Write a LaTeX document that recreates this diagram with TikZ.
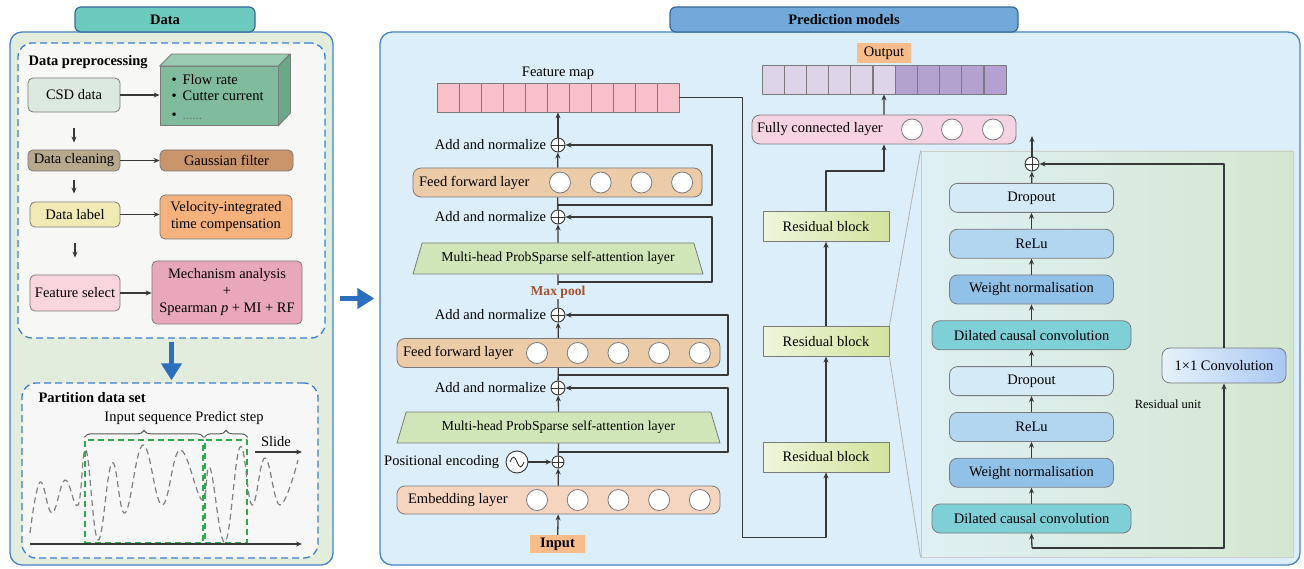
\documentclass[tikz,border=0pt]{standalone}
\usepackage{fontspec}
\setmainfont{Liberation Serif}
\usetikzlibrary{positioning}
\usetikzlibrary{shapes.geometric, arrows.meta, decorations.pathreplacing}

\definecolor{linecol}{HTML}{383838}
\definecolor{boxline}{HTML}{7A7A7A}
\definecolor{panelblue}{HTML}{4683C6}
\definecolor{dashblue}{HTML}{3C7FD0}
\definecolor{bigblue}{HTML}{2C6FBD}
\definecolor{datafill}{HTML}{E3EDDD}
\definecolor{datatab}{HTML}{6CC9BE}
\definecolor{predtab}{HTML}{70A9DA}
\definecolor{predfill}{HTML}{DCEEF9}
\definecolor{prepfill}{HTML}{F7F7F5}
\definecolor{csdfill}{HTML}{DCE9DE}
\definecolor{featfill}{HTML}{80BB9D}
\definecolor{feattop}{HTML}{98CBB0}
\definecolor{featside}{HTML}{6BA887}
\definecolor{cleanfill}{HTML}{B8A88E}
\definecolor{gaussfill}{HTML}{C9946A}
\definecolor{labelfill}{HTML}{F1EAB4}
\definecolor{velofill}{HTML}{F5B27C}
\definecolor{fselfill}{HTML}{F9D5DE}
\definecolor{mechfill}{HTML}{E9A7BB}
\definecolor{wingreen}{HTML}{2EAA4A}
\definecolor{fmfill}{HTML}{F8C0C8}
\definecolor{fffill}{HTML}{EBCBA8}
\definecolor{embfill}{HTML}{F5D5C0}
\definecolor{attfill}{HTML}{D0E5B8}
\definecolor{maxpoolcol}{HTML}{A0522D}
\definecolor{orangefill}{HTML}{F8BC8A}
\definecolor{outlight}{HTML}{DDD4EA}
\definecolor{outdark}{HTML}{B3A1CF}
\definecolor{fcfill}{HTML}{F6D3E2}
\definecolor{rbleft}{HTML}{EEF5DC}
\definecolor{rbright}{HTML}{D2E39E}
\definecolor{unitleft}{HTML}{DFF0F4}
\definecolor{unitright}{HTML}{D4E7D0}
\definecolor{docol}{HTML}{D5EAF7}
\definecolor{recol}{HTML}{B2D6F0}
\definecolor{wncol}{HTML}{92C1E8}
\definecolor{dccol}{HTML}{7FCFD7}

\tikzset{
  arr/.style={draw=linecol, line width=1.3pt, -{Stealth[length=6pt,width=5pt]}},
  bigarr/.style={draw=bigblue, line width=5pt, -{Triangle[length=17pt,width=20pt]}},
  panel/.style={draw=panelblue, line width=1.3pt, rounded corners=12pt, inner sep=0},
  tab/.style={draw=panelblue!80!black, line width=1.2pt, rounded corners=6pt, inner sep=0},
  dashbox/.style={draw=dashblue, line width=1.3pt, dash pattern=on 7pt off 4pt, rounded corners=14pt, inner sep=0},
  box/.style={draw=boxline, line width=0.8pt, rounded corners=5pt, inner sep=2pt, align=center},
  layer/.style={draw=boxline, line width=0.8pt, rounded corners=8pt, minimum height=29pt, inner sep=0},
  neuron/.style={circle, draw=boxline, line width=0.8pt, fill=white, minimum size=21pt, inner sep=0},
  cell/.style={draw=boxline, line width=0.8pt, minimum width=22pt, minimum height=29pt, inner sep=0},
  att/.style={trapezium, trapezium angle=54, trapezium stretches body, draw=boxline, line width=0.8pt,
    fill=attfill, minimum height=31pt, inner sep=0, font=\fontsize{13.7}{16}\selectfont},
  addop/.style={circle, draw=linecol, line width=0.9pt, fill=white, minimum size=14pt, inner sep=0,
    path picture={\draw[linecol, line width=0.8pt] (path picture bounding box.north) -- (path picture bounding box.south)
      (path picture bounding box.west) -- (path picture bounding box.east);}},
  win/.style={draw=wingreen, line width=1.3pt, dash pattern=on 6pt off 4pt, inner sep=0},
  brace/.style={draw=black!65, line width=1pt, decorate, decoration={brace, amplitude=7pt, raise=2pt}},
  resblock/.style={draw=boxline, line width=0.8pt, left color=rbleft, right color=rbright,
    minimum width=126pt, minimum height=30pt},
  unitbox/.style={draw=boxline, line width=0.8pt, rounded corners=8pt, minimum width=164pt, minimum height=29pt}
}

\begin{document}
\begin{tikzpicture}[x=1pt, y=-1pt, font=\fontsize{14.5}{17}\selectfont, line join=round]
\useasboundingbox (0,0) rectangle (1304,569);

% data side
\node[panel, fill=datafill, minimum width=323pt, minimum height=533pt] (datapanel) at (171.5,298.5) {};
\node[tab, fill=datatab, minimum width=180pt, minimum height=25pt] (datatab) at (165,19.5) {\textbf{Data}};
\node[dashbox, fill=prepfill, minimum width=307pt, minimum height=295pt] (prep) at (171.5,190.5) {};
\node[anchor=west] (preptitle) at (25,62) {\textbf{Data preprocessing}};

\node[box, fill=csdfill, minimum width=92pt, minimum height=34pt] (csd) at (74,95) {CSD data};
\node[draw=boxline, line width=0.8pt, fill=featfill, minimum width=118pt, minimum height=59pt] (featbox) at (219,96) {};
\draw[draw=boxline, line width=0.8pt, fill=feattop] (featbox.north west) -- ++(12,-12) -- ++(118,0) -- (featbox.north east) -- cycle;
\draw[draw=boxline, line width=0.8pt, fill=featside] (featbox.north east) -- ++(12,-12) -- ++(0,59) -- (featbox.south east) -- cycle;
\node[anchor=west] (item1) at (168,80) {\textbullet\hspace{6pt}Flow rate};
\node[anchor=west] (item2) at (168,96) {\textbullet\hspace{6pt}Cutter current};
\node[anchor=west] (item3) at (168,116) {\textbullet\hspace{6pt}{\color{black!55}\fontsize{13}{15}\selectfont ......}};

\node[box, fill=cleanfill, minimum width=92pt, minimum height=21pt] (clean) at (74,160.5) {Data cleaning};
\node[box, fill=gaussfill, minimum width=133pt, minimum height=21pt] (gauss) at (226.5,160.5) {Gaussian filter};
\node[box, fill=labelfill, minimum width=90pt, minimum height=25pt] (label) at (75,214.5) {Data label};
\node[box, fill=velofill, minimum width=132pt, minimum height=44pt] (velo) at (226,217) {Velocity-integrated\\time compensation};
\node[box, fill=fselfill, minimum width=90pt, minimum height=36pt] (fsel) at (75,293) {Feature select};
\node[box, fill=mechfill, minimum width=150pt, minimum height=63pt] (mech) at (227,292.5) {Mechanism analysis\\+\\Spearman \textit{p} + MI + RF};

\draw[arr] (csd.east) -- (csd.east -| featbox.west);
\draw[arr] (clean) -- (gauss);
\draw[arr] (label.east) -- (label.east -| velo.west);
\draw[arr] (fsel.east) -- (fsel.east -| mech.west);
\draw[arr, shorten <=16pt, shorten >=7pt] (csd.south) -- (clean.north);
\draw[arr, shorten <=9pt, shorten >=8pt] (clean.south) -- (clean.south |- label.north);
\draw[arr, shorten <=16pt, shorten >=17pt] (label.south) -- (fsel.north);

\node[dashbox, fill=white!97!black, minimum width=296pt, minimum height=175pt] (part) at (170,470.5) {};
\draw[bigarr, shorten <=3pt, shorten >=2pt] (prep.south) -- (prep.south |- part.north);
\node[anchor=west] (parttitle) at (35,398) {\textbf{Partition data set}};
\node[win, minimum width=118pt, minimum height=103pt] (win1) at (144,491.5) {};
\node[win, minimum width=42pt, minimum height=103pt] (win2) at (226,491.5) {};
\draw[brace] (win1.north west) -- (win1.north east);
\draw[brace] (win2.north west) -- (win2.north east);
\node (seqlabel) at (184,418) {Input sequence Predict step};
\draw[black!50, line width=1.2pt, dash pattern=on 6pt off 4pt] plot[smooth, tension=0.7] coordinates {
  (30,533) (40,482) (52,513) (65,480) (78,505) (86,450) (98,540) (112,463) (125,513) (143,445)
  (162,505) (180,450) (202,500) (210,468) (225,542) (240,447) (252,505) (265,458) (280,505) (298,460)};
\coordinate (ax0) at (30,544);
\coordinate (ax1) at (302,544);
\draw[arr] (ax0) -- (ax1);
\coordinate (sl0) at (255,452);
\coordinate (sl1) at (302,452);
\draw[arr] (sl0) -- (sl1);
\node (slide) at (276,442) {Slide};

% prediction side
\node[panel, fill=predfill, minimum width=920pt, minimum height=533pt] (predpanel) at (840,298.5) {};
\node[tab, fill=predtab, minimum width=348pt, minimum height=25pt] (predtab) at (844,19.5) {\textbf{Prediction models}};
\draw[bigarr, shorten <=6pt, shorten >=5pt] (datapanel.east) -- (predpanel.west);

\node (fmlabel) at (558,73) {Feature map};
\foreach \i in {0,...,10}
  \node[cell, fill=fmfill] (fm\i) at (448+22*\i,97.5) {};

\node[addop] (add1) at (558,145) {};
\node[left=1pt of add1] (add1txt) {Add and normalize};
\node[layer, fill=fffill, minimum width=289pt] (ff1) at (557.5,182.5) {};
\node[right=3pt of ff1.west] (ff1txt) {Feed forward layer};
\foreach \i in {0,...,3}
  \node[neuron] (ffa\i) at (560+40.7*\i,182.5) {};
\node[addop] (add2) at (558,217) {};
\node[left=1pt of add2] (add2txt) {Add and normalize};
\node[att, minimum width=290pt] (att1) at (558,258.5) {Multi-head ProbSparse self-attention layer};

\node[addop] (add3) at (558,315) {};
\node[left=1pt of add3] (add3txt) {Add and normalize};
\node[layer, fill=fffill, minimum width=323pt] (ff2) at (558.5,353) {};
\node[right=3pt of ff2.west] (ff2txt) {Feed forward layer};
\foreach \i in {0,...,4}
  \node[neuron] (ffb\i) at (537+40.7*\i,353) {};
\node[addop] (add4) at (558,388) {};
\node[left=1pt of add4] (add4txt) {Add and normalize};
\node[att, minimum width=323pt] (att2) at (558.5,427.5) {Multi-head ProbSparse self-attention layer};

\node[circle, draw=linecol, line width=0.9pt, fill=white, minimum size=22pt] (pe) at (517,462) {};
\draw[linecol, line width=0.9pt] ([xshift=-7pt]pe.center) sin ++(3.5,-5) cos ++(3.5,5) sin ++(3.5,5) cos ++(3.5,-5);
\node[left=3pt of pe] (petxt) {Positional encoding};
\node[addop, minimum size=12pt] (pos) at (558,462) {};
\node[layer, fill=embfill, minimum width=323pt, minimum height=28pt] (emb) at (558.5,500) {};
\node[right=8pt of emb.west] (embtxt) {Embedding layer};
\foreach \i in {0,...,4}
  \node[neuron] (emb\i) at (537+40.7*\i,500) {};
\node[fill=orangefill, minimum width=55pt, minimum height=18pt, inner sep=0] (input) at (557.5,544) {\textbf{Input}};

% informer flow
\draw[arr] (input) -- (emb);
\draw[arr] (emb) -- (pos);
\draw[arr] (pe) -- (pos);
\draw[draw=linecol, line width=1.3pt] (pos) -- (att2.south);
\draw[arr] (att2.north) -- (add4);
\draw[draw=linecol, line width=1.3pt] (add4) -- (ff2);
\draw[arr] (ff2) -- (add3);
\draw[draw=linecol, line width=1.3pt] (add3) -- (att1.south);
\node[fill=predfill, inner sep=1pt, text=maxpoolcol, font=\fontsize{13.6}{16}\selectfont\bfseries] (maxpool) at (558,292) {Max pool};
\draw[arr] (att1.north) -- (add2);
\draw[draw=linecol, line width=1.3pt] (add2) -- (ff1);
\draw[arr] (ff1) -- (add1);
\draw[arr] (add1) -- (fm5);

% residual paths
\coordinate (j1) at (558,205);
\coordinate (j2) at (558,282);
\coordinate (j3) at (558,375);
\coordinate (j4) at (558,452);
\draw[arr] (j1) -- ++(154,0) |- (add1.east);
\draw[arr] (j2) -- ++(154,0) |- (add2.east);
\draw[arr] (j3) -- ++(170,0) |- (add3.east);
\draw[arr] (j4) -- ++(170,0) |- (add4.east);

% tcn
\node[resblock] (rb1) at (826,457) {Residual block};
\node[resblock, above=85pt of rb1] (rb2) {Residual block};
\node[resblock, above=84pt of rb2] (rb3) {Residual block};
\draw[arr] (fm10.east) -| ++(63,440) -| (rb1.south);
\draw[arr] (rb1) -- (rb2);
\draw[arr] (rb2) -- (rb3);

\node[layer, fill=fcfill, minimum width=264pt] (fc) at (884,129.5) {};
\node[right=2pt of fc.west] (fctxt) {Fully connected layer};
\foreach \x [count=\k] in {912,952,993}
  \node[neuron] (fcn\k) at (\x,129.5) {};
\draw[arr] (rb3.north) -- ++(0,-40) -| (fc.south);

\foreach \i in {0,...,5}
  \node[cell, fill=outlight] (out\i) at (773+22.2*\i,79.5) {};
\foreach \i in {6,...,10}
  \node[cell, fill=outdark] (out\i) at (773+22.2*\i,79.5) {};
\node[fill=orangefill, minimum width=54pt, minimum height=20pt, inner sep=0] (outlbl) at (884,53) {Output};
\draw[arr] (fc.north) -- (out5.south);

% residual unit
\node[draw=black!20, line width=0.8pt, left color=unitleft, right color=unitright,
  minimum width=372pt, minimum height=406pt] (unit) at (1107,354) {};
\draw[black!30, line width=0.8pt] (rb2.north east) -- (unit.north west);
\draw[black!30, line width=0.8pt] (rb2.south east) -- (unit.south west);

\node[unitbox, fill=dccol, minimum width=199pt] (dc2) at (1031.5,518.5) {Dilated causal convolution};
\node[unitbox, fill=wncol, above=16pt of dc2] (wn2) {Weight normalisation};
\node[unitbox, fill=recol, above=16pt of wn2] (re2) {ReLu};
\node[unitbox, fill=docol, above=16pt of re2] (do2) {Dropout};
\node[unitbox, fill=dccol, minimum width=199pt, above=16pt of do2] (dc1) {Dilated causal convolution};
\node[unitbox, fill=wncol, above=16pt of dc1] (wn1) {Weight normalisation};
\node[unitbox, fill=recol, above=16pt of wn1] (re1) {ReLu};
\node[unitbox, fill=docol, above=16pt of re1] (do1) {Dropout};
\node[addop] (addR) at (1032,164) {};
\node[unitbox, left color=docol!60!white, right color=recol!90!blue!90, minimum width=124pt, minimum height=35pt] (conv) at (1224,365.5) {1×1 Convolution};
\node[font=\fontsize{12.5}{14}\selectfont] (unitlbl) at (1168,404) {Residual unit};

\draw[arr] (dc2) -- (wn2);
\draw[arr] (wn2) -- (re2);
\draw[arr] (re2) -- (do2);
\draw[arr] (do2) -- (dc1);
\draw[arr] (dc1) -- (wn1);
\draw[arr] (wn1) -- (re1);
\draw[arr] (re1) -- (do1);
\draw[arr] (do1) -- (addR);
\coordinate (unitin) at (1032,548);
\coordinate (unitout) at (1032,136);
\draw[arr] (addR) -- (unitout);
\draw[arr] (unitin) -- (dc2.south);
\draw[arr] (unitin) -| (conv.south);
\draw[arr] (conv.north) |- (addR.east);
\end{tikzpicture}
\end{document}
